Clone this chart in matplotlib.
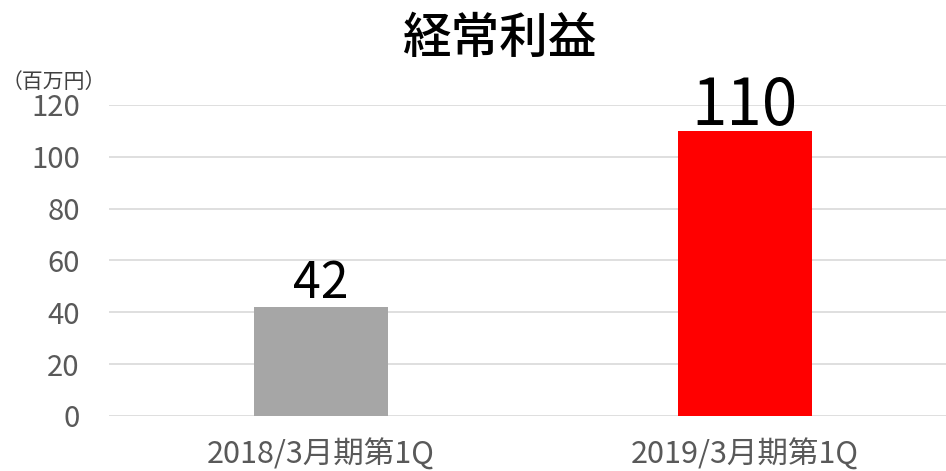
import matplotlib
matplotlib.use("Agg")
import matplotlib.pyplot as plt
import numpy as np

plt.rcParams['font.family'] = ['Noto Sans CJK JP', 'DejaVu Sans']

# data
categories = ['2018/3月期第1Q', '2019/3月期第1Q']
values = [42, 110]
bar_colors = ['#a6a6a6', '#ff0000']
yticks = [0, 20, 40, 60, 80, 100, 120]

fig = plt.figure(figsize=(9.46, 4.71), dpi=100)
ax = fig.add_axes([0.1152, 0.1168, 0.8964, 0.6603])

x = np.arange(len(categories))
ax.bar(x, values, width=0.315, color=bar_colors, zorder=2)

ax.set_xlim(-0.5, 1.5)
ax.set_ylim(0, 120)
ax.set_yticks(yticks)
ax.set_xticks(x)
ax.set_xticklabels(categories, fontsize=22, color='#595959')
ax.tick_params(axis='y', labelsize=21, colors='#595959', length=0, pad=21)
ax.tick_params(axis='x', length=0, pad=16)
ax.grid(axis='y', color='#d9d9d9', linewidth=1.2, zorder=0)
for s in ax.spines.values():
    s.set_visible(False)

# value labels: size and gap above bar (points)
label_sizes = [36, 46]
label_gaps = [6.5, 4.3]
for xi, v, fs, g in zip(x, values, label_sizes, label_gaps):
    ax.annotate(str(v), (xi, v), xytext=(0, g), textcoords='offset points',
                ha='center', va='baseline', fontsize=fs, color='black', zorder=3)

fig.text(0.528, 0.918, '経常利益', ha='center', va='center', fontsize=35,
         fontweight='medium', color='black')
fig.text(0.002, 0.825, '（百万円）', ha='left', va='center', fontsize=15, color='#404040')

fig.savefig('out.png', dpi=100)
